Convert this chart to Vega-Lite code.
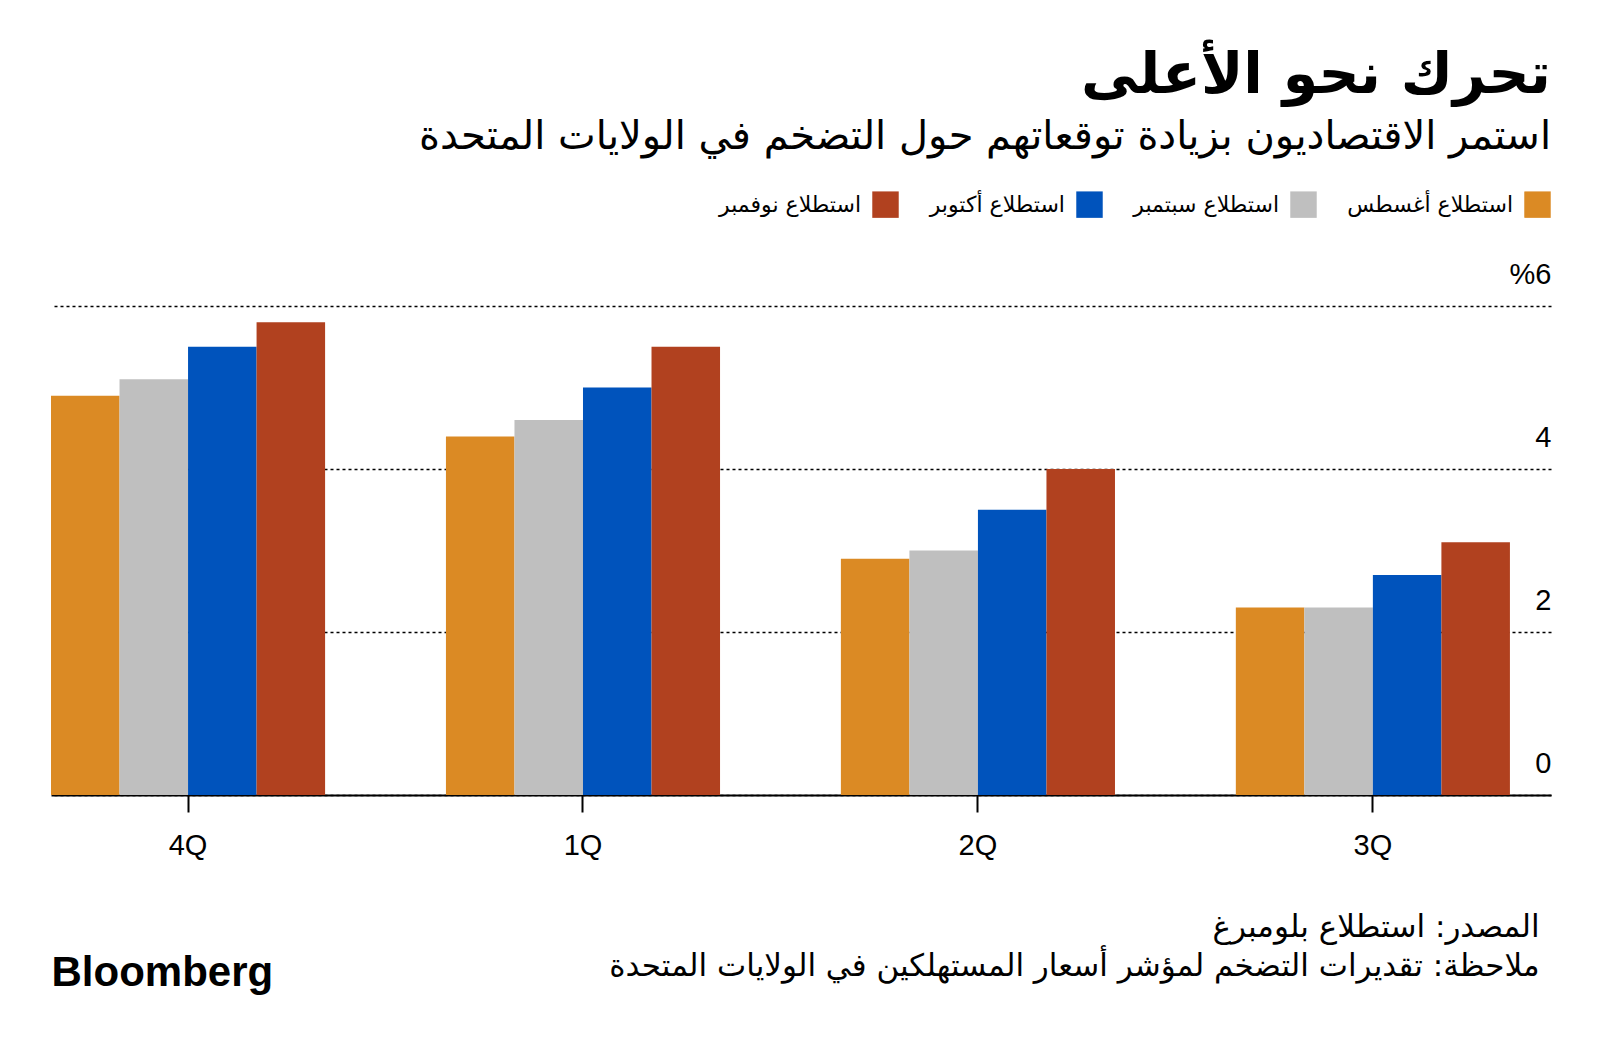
{
  "$schema": "https://vega.github.io/schema/vega-lite/v6.json",
  "width": 1500,
  "height": 489,
  "autosize": {"type": "none"},
  "padding": {"left": 51, "top": 306, "right": 49, "bottom": 254},
  "background": "white",
  "title": {
    "text": "تحرك نحو الأعلى",
    "subtitle": "استمر الاقتصاديون بزيادة توقعاتهم حول التضخم في الولايات المتحدة",
    "anchor": "end",
    "frame": "group",
    "font": "DejaVu Sans",
    "fontSize": 57,
    "fontWeight": "bold",
    "color": "#000000",
    "subtitleFont": "DejaVu Sans",
    "subtitleFontSize": 40,
    "subtitleFontWeight": "normal",
    "subtitleColor": "#000000",
    "subtitlePadding": 12,
    "offset": 33
  },
  "data": {
    "values": [
      {"quarter": "4Q", "survey": "استطلاع أغسطس", "value": 4.9},
      {"quarter": "4Q", "survey": "استطلاع سبتمبر", "value": 5.1},
      {"quarter": "4Q", "survey": "استطلاع أكتوبر", "value": 5.5},
      {"quarter": "4Q", "survey": "استطلاع نوفمبر", "value": 5.8},
      {"quarter": "1Q", "survey": "استطلاع أغسطس", "value": 4.4},
      {"quarter": "1Q", "survey": "استطلاع سبتمبر", "value": 4.6},
      {"quarter": "1Q", "survey": "استطلاع أكتوبر", "value": 5.0},
      {"quarter": "1Q", "survey": "استطلاع نوفمبر", "value": 5.5},
      {"quarter": "2Q", "survey": "استطلاع أغسطس", "value": 2.9},
      {"quarter": "2Q", "survey": "استطلاع سبتمبر", "value": 3.0},
      {"quarter": "2Q", "survey": "استطلاع أكتوبر", "value": 3.5},
      {"quarter": "2Q", "survey": "استطلاع نوفمبر", "value": 4.0},
      {"quarter": "3Q", "survey": "استطلاع أغسطس", "value": 2.3},
      {"quarter": "3Q", "survey": "استطلاع سبتمبر", "value": 2.3},
      {"quarter": "3Q", "survey": "استطلاع أكتوبر", "value": 2.7},
      {"quarter": "3Q", "survey": "استطلاع نوفمبر", "value": 3.1}
    ]
  },
  "mark": {"type": "bar"},
  "encoding": {
    "x": {
      "field": "quarter",
      "type": "nominal",
      "sort": ["4Q", "1Q", "2Q", "3Q"],
      "scale": {"paddingInner": 0.306, "paddingOuter": 0.052, "align": 0},
      "axis": {
        "title": "Bloomberg",
        "titleX": 0,
        "titleY": 190,
        "titleAlign": "left",
        "titleAnchor": "start",
        "titleBaseline": "alphabetic",
        "titleFont": "Liberation Sans",
        "titleFontSize": 42,
        "titleFontWeight": "bold",
        "titleColor": "#000000",
        "labelAngle": 0,
        "labelFont": "Liberation Sans",
        "labelFontSize": 29,
        "labelColor": "#000000",
        "labelPadding": 19,
        "domainColor": "#000000",
        "domainWidth": 2,
        "tickColor": "#000000",
        "tickWidth": 2,
        "tickSize": 17,
        "grid": false
      }
    },
    "xOffset": {
      "field": "survey",
      "type": "nominal",
      "sort": ["استطلاع أغسطس", "استطلاع سبتمبر", "استطلاع أكتوبر", "استطلاع نوفمبر"],
      "scale": {"paddingInner": 0, "paddingOuter": 0}
    },
    "y": {
      "field": "value",
      "type": "quantitative",
      "scale": {"domain": [0, 6], "nice": false},
      "axis": {
        "orient": "right",
        "values": [0, 2, 4, 6],
        "labelExpr": "datum.value == 6 ? '%6' : datum.label",
        "grid": true,
        "gridDash": [3, 3],
        "gridColor": "#000000",
        "gridWidth": 1.5,
        "domain": false,
        "ticks": false,
        "labelAlign": "right",
        "labelPadding": 0,
        "labelBaseline": "middle",
        "labelOffset": -32,
        "labelFont": "Liberation Sans",
        "labelFontSize": 29,
        "labelColor": "#000000",
        "labelFlush": false,
        "labelOverlap": false,
        "labelBound": false,
        "title": ["المصدر: استطلاع بلومبرغ", "ملاحظة: تقديرات التضخم لمؤشر أسعار المستهلكين في الولايات المتحدة"],
        "titleAngle": 0,
        "titleAlign": "right",
        "titleBaseline": "alphabetic",
        "titleX": -12,
        "titleY": 630,
        "titleFont": "DejaVu Sans",
        "titleFontSize": 31,
        "titleFontWeight": "normal",
        "titleLineHeight": 39,
        "titleColor": "#000000"
      }
    },
    "color": {
      "field": "survey",
      "type": "nominal",
      "scale": {
        "domain": ["استطلاع نوفمبر", "استطلاع أكتوبر", "استطلاع سبتمبر", "استطلاع أغسطس"],
        "range": ["#B1411F", "#0053BC", "#BFBFBF", "#DB8A24"]
      },
      "legend": {
        "orient": "none",
        "legendX": 821,
        "legendY": -115,
        "direction": "horizontal",
        "title": null,
        "symbolType": "square",
        "symbolSize": 700,
        "symbolStrokeWidth": 0,
        "symbolOpacity": 1,
        "labelFont": "DejaVu Sans",
        "labelFontSize": 22,
        "labelColor": "#000000",
        "labelAlign": "right",
        "labelOffset": -38,
        "labelLimit": 400,
        "columnPadding": 30,
        "padding": 0
      }
    }
  },
  "config": {"view": {"stroke": null}}
}
